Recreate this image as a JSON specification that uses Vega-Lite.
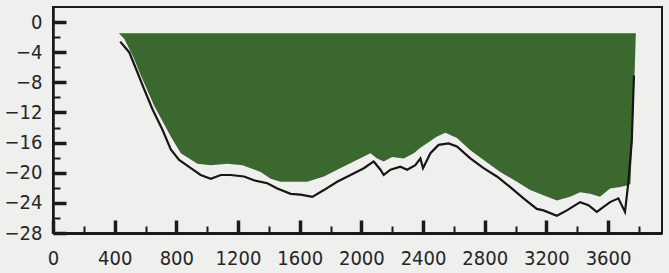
{
  "$schema": "https://vega.github.io/schema/vega-lite/v6.json",
  "width": 609,
  "height": 226,
  "autosize": {"type": "none"},
  "padding": {"left": 53, "top": 7, "right": 7, "bottom": 40},
  "background": "#efefed",
  "config": {
    "view": {"stroke": "#1a1a1a", "strokeWidth": 2},
    "axis": {
      "grid": false,
      "labelFont": "Liberation Sans Narrow, DejaVu Sans Condensed, sans-serif",
      "labelFontSize": 20,
      "labelColor": "#262626",
      "tickColor": "#1a1a1a",
      "domainColor": "#1a1a1a",
      "title": null
    }
  },
  "datasets": {
    "bed": [
      {"x": 436, "depth": -2.6}, {"x": 494, "depth": -4.0}, {"x": 548, "depth": -6.7},
      {"x": 591, "depth": -8.9}, {"x": 646, "depth": -11.6}, {"x": 710, "depth": -14.3},
      {"x": 764, "depth": -16.9}, {"x": 818, "depth": -18.3}, {"x": 894, "depth": -19.4},
      {"x": 958, "depth": -20.3}, {"x": 1023, "depth": -20.8}, {"x": 1088, "depth": -20.3},
      {"x": 1152, "depth": -20.3}, {"x": 1239, "depth": -20.5}, {"x": 1303, "depth": -21.0},
      {"x": 1390, "depth": -21.4}, {"x": 1455, "depth": -22.1}, {"x": 1541, "depth": -22.8},
      {"x": 1606, "depth": -22.9}, {"x": 1682, "depth": -23.2}, {"x": 1757, "depth": -22.3},
      {"x": 1843, "depth": -21.2}, {"x": 1930, "depth": -20.3}, {"x": 2016, "depth": -19.4},
      {"x": 2080, "depth": -18.5}, {"x": 2124, "depth": -19.6}, {"x": 2145, "depth": -20.3},
      {"x": 2189, "depth": -19.6}, {"x": 2253, "depth": -19.2}, {"x": 2297, "depth": -19.6},
      {"x": 2350, "depth": -19.0}, {"x": 2383, "depth": -18.1}, {"x": 2400, "depth": -19.4},
      {"x": 2448, "depth": -17.4}, {"x": 2501, "depth": -16.3}, {"x": 2566, "depth": -16.1},
      {"x": 2620, "depth": -16.5}, {"x": 2707, "depth": -18.1}, {"x": 2793, "depth": -19.4},
      {"x": 2879, "depth": -20.5}, {"x": 2966, "depth": -21.9}, {"x": 3052, "depth": -23.4},
      {"x": 3138, "depth": -24.8}, {"x": 3181, "depth": -25.0}, {"x": 3268, "depth": -25.7},
      {"x": 3333, "depth": -25.0}, {"x": 3419, "depth": -23.9}, {"x": 3473, "depth": -24.3},
      {"x": 3527, "depth": -25.2}, {"x": 3613, "depth": -23.9}, {"x": 3667, "depth": -23.4},
      {"x": 3710, "depth": -25.2}, {"x": 3732, "depth": -21.2}, {"x": 3754, "depth": -15.8},
      {"x": 3768, "depth": -7.1}
    ],
    "fill": [
      {"x": 427, "bottom": -1.5}, {"x": 462, "bottom": -2.2}, {"x": 520, "bottom": -4.6},
      {"x": 570, "bottom": -7.1}, {"x": 656, "bottom": -11.1}, {"x": 764, "bottom": -15.2},
      {"x": 829, "bottom": -17.4}, {"x": 937, "bottom": -18.8}, {"x": 1023, "bottom": -19.0},
      {"x": 1130, "bottom": -18.8}, {"x": 1230, "bottom": -19.0}, {"x": 1347, "bottom": -19.9},
      {"x": 1412, "bottom": -20.8}, {"x": 1476, "bottom": -21.2}, {"x": 1649, "bottom": -21.2},
      {"x": 1757, "bottom": -20.5}, {"x": 1843, "bottom": -19.6}, {"x": 1951, "bottom": -18.5},
      {"x": 2059, "bottom": -17.4}, {"x": 2102, "bottom": -18.1}, {"x": 2145, "bottom": -18.5},
      {"x": 2200, "bottom": -17.9}, {"x": 2275, "bottom": -18.1}, {"x": 2340, "bottom": -17.4},
      {"x": 2383, "bottom": -16.7}, {"x": 2426, "bottom": -16.1}, {"x": 2491, "bottom": -15.2},
      {"x": 2545, "bottom": -14.7}, {"x": 2620, "bottom": -15.4}, {"x": 2707, "bottom": -17.0},
      {"x": 2793, "bottom": -18.3}, {"x": 2901, "bottom": -19.9}, {"x": 3009, "bottom": -21.2},
      {"x": 3095, "bottom": -22.3}, {"x": 3181, "bottom": -23.0}, {"x": 3268, "bottom": -23.7},
      {"x": 3354, "bottom": -23.2}, {"x": 3419, "bottom": -22.6}, {"x": 3484, "bottom": -22.8},
      {"x": 3548, "bottom": -23.2}, {"x": 3613, "bottom": -22.1}, {"x": 3678, "bottom": -21.9},
      {"x": 3721, "bottom": -21.7}, {"x": 3745, "bottom": -21.5}, {"x": 3760, "bottom": -14.0},
      {"x": 3772, "bottom": -7.0}, {"x": 3780, "bottom": -1.6}
    ]
  },
  "layer": [
    {
      "data": {"name": "fill"},
      "mark": {"type": "area", "color": "#3a682e", "opacity": 1},
      "encoding": {
        "x": {
          "field": "x", "type": "quantitative",
          "scale": {"domain": [0, 3950], "nice": false, "zero": false},
          "axis": {
            "orient": "bottom",
            "values": [0, 400, 800, 1200, 1600, 2000, 2400, 2800, 3200, 3600],
            "format": "d",
            "ticks": false, "labelPadding": 15, "labelFlush": false,
            "domain": true, "domainWidth": 3
          }
        },
        "y": {
          "field": "bottom", "type": "quantitative",
          "scale": {"domain": [-28, 2], "nice": false, "zero": false},
          "axis": {
            "orient": "left",
            "values": [0, -4, -8, -12, -16, -20, -24, -28],
            "format": "d",
            "ticks": false, "labelPadding": 11,
            "domain": true, "domainWidth": 2.5
          }
        },
        "y2": {"datum": -1.5}
      }
    },
    {
      "data": {"name": "bed"},
      "mark": {"type": "line", "color": "#161616", "strokeWidth": 2.2},
      "encoding": {
        "x": {
          "field": "x", "type": "quantitative",
          "axis": {
            "orient": "bottom",
            "values": [0, 400, 800, 1200, 1600, 2000, 2400, 2800, 3200, 3600],
            "labels": false, "domain": false, "ticks": true,
            "tickSize": -13, "tickWidth": 3.5
          }
        },
        "y": {
          "field": "depth", "type": "quantitative",
          "axis": {
            "orient": "left",
            "values": [0, -4, -8, -12, -16, -20, -24, -28],
            "labels": false, "domain": false, "ticks": true,
            "tickSize": -13, "tickWidth": 3.5
          }
        }
      }
    },
    {
      "data": {"name": "bed"},
      "mark": {"type": "line", "opacity": 0, "strokeWidth": 0},
      "encoding": {
        "x": {
          "field": "x", "type": "quantitative",
          "axis": {
            "orient": "bottom",
            "values": [200, 600, 1000, 1400, 1800, 2200, 2600, 3000, 3400, 3800],
            "labels": false, "domain": false, "ticks": true,
            "tickSize": -7, "tickWidth": 2
          }
        },
        "y": {
          "field": "depth", "type": "quantitative",
          "axis": {
            "orient": "left",
            "values": [-2, -6, -10, -14, -18, -22, -26],
            "labels": false, "domain": false, "ticks": true,
            "tickSize": -7, "tickWidth": 2
          }
        }
      }
    }
  ],
  "resolve": {"axis": {"x": "independent", "y": "independent"}}
}
